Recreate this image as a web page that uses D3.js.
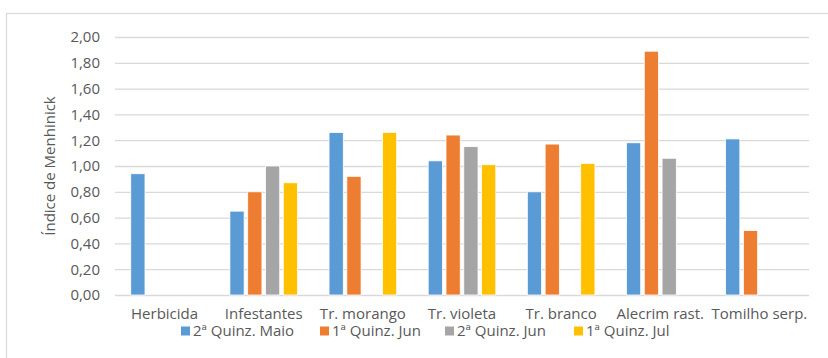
<!DOCTYPE html>
<html>
<head>
<meta charset="utf-8">
<script src="https://cdn.jsdelivr.net/npm/d3@7"></script>
<style>
  html, body { margin: 0; padding: 0; background: #fff; }
  svg { display: block; font-family: "Open Sans", sans-serif; }
</style>
</head>
<body>
<svg id="chart" width="828" height="358"></svg>
<script>
// Menhinick richness index by treatment and sampling fortnight
const categories = ["Herbicida", "Infestantes", "Tr. morango", "Tr. violeta", "Tr. branco", "Alecrim rast.", "Tomilho serp."];
const seriesNames = ["2ª Quinz. Maio", "1ª Quinz. Jun", "2ª Quinz. Jun", "1ª Quinz. Jul"];
const seriesColors = ["#5B9BD5", "#ED7D31", "#A5A5A5", "#FFC000"];
const maio2 = [0.94, 0.65, 1.26, 1.04, 0.80, 1.18, 1.21];
const jun1  = [null, 0.80, 0.92, 1.24, 1.17, 1.89, 0.50];
const jun2  = [null, 1.00, null, 1.15, null, 1.06, null];
const jul1  = [null, 0.87, 1.26, 1.01, 1.02, null, null];
const yTicks = [0, 0.2, 0.4, 0.6, 0.8, 1.0, 1.2, 1.4, 1.6, 1.8, 2.0];
const yTitle = "Índice de Menhinick";

const seriesValues = [maio2, jun1, jun2, jul1];

const svg = d3.select("#chart");
const textColor = "#595959";
const gridColor = "#D9D9D9";
const fontSize = 15;

// outer chart frame
svg.append("rect")
  .attr("x", 6.5).attr("y", 13.5)
  .attr("width", 840).attr("height", 360)
  .attr("fill", "#fff").attr("stroke", gridColor).attr("stroke-width", 1.2);

const plot = { left: 115, right: 809, top: 37, bottom: 295 };

const x = d3.scaleBand().domain(categories).range([plot.left, plot.right]).paddingInner(0).paddingOuter(0);
const y = d3.scaleLinear().domain([0, 2]).range([plot.bottom, plot.top]);
const xInner = d3.scaleBand().domain(d3.range(seriesNames.length))
  .range([x.bandwidth() / 2 - 35.6, x.bandwidth() / 2 + 35.6])
  .paddingInner(0.2).paddingOuter(0.1);

// gridlines + y labels via d3 axis
const yAxis = d3.axisLeft(y).tickValues(yTicks)
  .tickSize(-(plot.right - plot.left))
  .tickPadding(15)
  .tickFormat(d => d3.format(".2f")(d).replace(".", ","));

const gy = svg.append("g").attr("transform", `translate(${plot.left},0)`).call(yAxis);
gy.select(".domain").remove();
gy.selectAll(".tick line").attr("stroke", gridColor).attr("stroke-width", 1.3);
gy.selectAll(".tick text").attr("fill", textColor).attr("font-size", fontSize).attr("font-family", "'Open Sans', sans-serif");

// bars
const groups = svg.append("g").selectAll("g")
  .data(categories)
  .join("g")
  .attr("transform", d => `translate(${x(d)},0)`);

groups.selectAll("rect")
  .data((c, ci) => seriesValues.map((vals, si) => ({ si, v: vals[ci] })).filter(d => d.v != null))
  .join("rect")
  .attr("x", d => xInner(d.si))
  .attr("width", xInner.bandwidth())
  .attr("y", d => y(d.v))
  .attr("height", d => y(0) - y(d.v))
  .attr("fill", d => seriesColors[d.si])
  .attr("stroke", "#fff")
  .attr("stroke-width", 0.8);

// x axis labels
const xAxis = d3.axisBottom(x).tickSize(0).tickPadding(13);
const gx = svg.append("g").attr("transform", `translate(0,${plot.bottom})`).call(xAxis);
gx.select(".domain").remove();
gx.selectAll(".tick text").attr("fill", textColor).attr("font-size", fontSize).attr("font-family", "'Open Sans', sans-serif");

// y axis title
svg.append("text")
  .attr("transform", `translate(55,166) rotate(-90)`)
  .attr("text-anchor", "middle")
  .attr("fill", textColor)
  .attr("font-size", fontSize)
  .text(yTitle);

// legend
const legendX = [181, 320, 445, 574];
const legend = svg.append("g").selectAll("g")
  .data(seriesNames)
  .join("g")
  .attr("transform", (d, i) => `translate(${legendX[i]},331)`);
legend.append("rect")
  .attr("x", 0).attr("y", -4.5).attr("width", 9).attr("height", 9)
  .attr("fill", (d, i) => seriesColors[i]);
legend.append("text")
  .attr("x", 12).attr("y", 0).attr("dy", "0.35em")
  .attr("fill", textColor).attr("font-size", fontSize)
  .text(d => d);
</script>
</body>
</html>
